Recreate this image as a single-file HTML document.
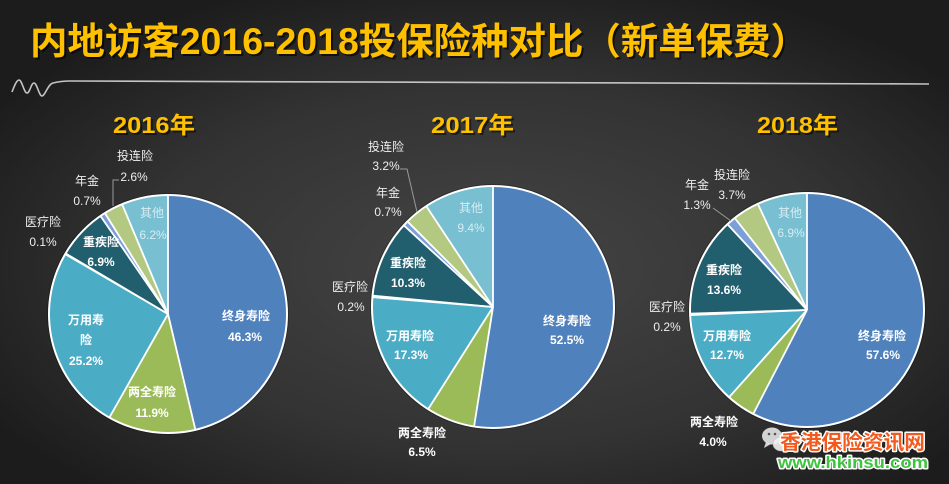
<!DOCTYPE html>
<html><head><meta charset="utf-8"><style>
html,body{margin:0;padding:0;background:#2a2a2a;}
svg{display:block;}
text{font-family:"Liberation Sans","Noto Sans CJK SC",sans-serif;}
</style></head><body>
<svg width="949" height="484" viewBox="0 0 949 484" xmlns="http://www.w3.org/2000/svg">
<defs>
<radialGradient id="bg" cx="52%" cy="55%" r="62%">
<stop offset="0" stop-color="#454545"/>
<stop offset="0.6" stop-color="#333333"/>
<stop offset="1" stop-color="#1c1c1c"/>
</radialGradient>
</defs>
<rect width="949" height="484" fill="url(#bg)"/>

<!-- Title -->
<text x="32" y="56" font-size="37" font-weight="bold" fill="#000" opacity="0.6" textLength="778" lengthAdjust="spacingAndGlyphs">内地访客2016-2018投保险种对比（新单保费）</text>
<text x="30" y="54" font-size="37" font-weight="bold" fill="#FFC000" textLength="778" lengthAdjust="spacingAndGlyphs">内地访客2016-2018投保险种对比（新单保费）</text>

<!-- squiggle line -->
<path d="M12,92 C15,84 17,80 19,80 C22,80 24,93 27,93 C30,93 31,83 34,83 C37,83 39,96 42,96 C45,96 48,84 53,83 C57,82 62,81 70,81 L929,84" fill="none" stroke="#c4c4c4" stroke-width="1.6"/>

<!-- Year headings -->
<g font-size="23" font-weight="bold">
<text x="115" y="135" fill="#000" opacity="0.5" textLength="82" lengthAdjust="spacingAndGlyphs">2016年</text>
<text x="113" y="133" fill="#FFC000" textLength="82" lengthAdjust="spacingAndGlyphs">2016年</text>
<text x="433" y="135" fill="#000" opacity="0.5" textLength="83" lengthAdjust="spacingAndGlyphs">2017年</text>
<text x="431" y="133" fill="#FFC000" textLength="83" lengthAdjust="spacingAndGlyphs">2017年</text>
<text x="759" y="135" fill="#000" opacity="0.5" textLength="81" lengthAdjust="spacingAndGlyphs">2018年</text>
<text x="757" y="133" fill="#FFC000" textLength="81" lengthAdjust="spacingAndGlyphs">2018年</text>
</g>

<!-- Pie 2016 -->
<g transform="translate(168,314)">
<circle r="121" fill="#000" opacity="0.25"/>
<g fill="none" stroke-width="119">
<circle r="59.5" stroke="#4F81BD" stroke-dasharray="173.6 400" transform="rotate(-90)"/>
<circle r="59.5" stroke="#9BBB59" stroke-dasharray="45 400" transform="rotate(76.68)"/>
<circle r="59.5" stroke="#4BACC6" stroke-dasharray="94.7 400" transform="rotate(119.52)"/>
<circle r="59.5" stroke="#e8e8e8" stroke-dasharray="0.9 400" transform="rotate(210.24)"/>
<circle r="59.5" stroke="#215E6E" stroke-dasharray="26.3 400" transform="rotate(210.6)"/>
<circle r="59.5" stroke="#7D9FD8" stroke-dasharray="3.1 400" transform="rotate(235.44)"/>
<circle r="59.5" stroke="#B3C982" stroke-dasharray="10.2 400" transform="rotate(237.96)"/>
<circle r="59.5" stroke="#78BFD2" stroke-dasharray="23.55 400" transform="rotate(247.32)"/>
</g>
<g stroke="#fff" stroke-width="1.8">
<line x1="0" y1="0" x2="0" y2="-119" transform="rotate(0)"/>
<line x1="0" y1="0" x2="0" y2="-119" transform="rotate(166.68)"/>
<line x1="0" y1="0" x2="0" y2="-119" transform="rotate(209.52)"/>
<line x1="0" y1="0" x2="0" y2="-119" transform="rotate(300.24)"/>
<line x1="0" y1="0" x2="0" y2="-119" transform="rotate(300.6)"/>
<line x1="0" y1="0" x2="0" y2="-119" transform="rotate(325.44)"/>
<line x1="0" y1="0" x2="0" y2="-119" transform="rotate(327.96)"/>
<line x1="0" y1="0" x2="0" y2="-119" transform="rotate(337.32)"/>
</g>
<circle r="119" fill="none" stroke="#fff" stroke-width="2"/>
</g>
<polyline points="119,180 113,180 113,206" fill="none" stroke="#999" stroke-width="1"/>
<g font-size="12" text-anchor="middle">
<text x="135" y="160" fill="#eee">投连险</text>
<text x="134" y="181" fill="#eee">2.6%</text>
<text x="87" y="185" fill="#eee">年金</text>
<text x="87" y="205" fill="#eee">0.7%</text>
<text x="43" y="226" fill="#eee">医疗险</text>
<text x="43" y="246" fill="#eee">0.1%</text>
<text x="152" y="217" fill="#d6ecf3">其他</text>
<text x="153" y="239" fill="#d6ecf3">6.2%</text>
<g font-weight="bold" fill="#fff">
<text x="101" y="246">重疾险</text>
<text x="101" y="266">6.9%</text>
<text x="86" y="324">万用寿</text>
<text x="86" y="344">险</text>
<text x="86" y="365">25.2%</text>
<text x="152" y="396">两全寿险</text>
<text x="152" y="417">11.9%</text>
<text x="246" y="320">终身寿险</text>
<text x="245" y="341">46.3%</text>
</g>
</g>

<!-- Pie 2017 -->
<g transform="translate(493,307)">
<circle r="123" fill="#000" opacity="0.25"/>
<g fill="none" stroke-width="121">
<circle r="60.5" stroke="#4F81BD" stroke-dasharray="200.1 400" transform="rotate(-90)"/>
<circle r="60.5" stroke="#9BBB59" stroke-dasharray="25.2 400" transform="rotate(99)"/>
<circle r="60.5" stroke="#4BACC6" stroke-dasharray="66.3 400" transform="rotate(122.4)"/>
<circle r="60.5" stroke="#e8e8e8" stroke-dasharray="1.2 400" transform="rotate(184.68)"/>
<circle r="60.5" stroke="#215E6E" stroke-dasharray="39.6 400" transform="rotate(185.4)"/>
<circle r="60.5" stroke="#7D9FD8" stroke-dasharray="3.1 400" transform="rotate(222.48)"/>
<circle r="60.5" stroke="#B3C982" stroke-dasharray="12.6 400" transform="rotate(225)"/>
<circle r="60.5" stroke="#78BFD2" stroke-dasharray="35.4 400" transform="rotate(236.52)"/>
</g>
<g stroke="#fff" stroke-width="1.8">
<line x1="0" y1="0" x2="0" y2="-121" transform="rotate(0)"/>
<line x1="0" y1="0" x2="0" y2="-121" transform="rotate(189)"/>
<line x1="0" y1="0" x2="0" y2="-121" transform="rotate(212.4)"/>
<line x1="0" y1="0" x2="0" y2="-121" transform="rotate(274.68)"/>
<line x1="0" y1="0" x2="0" y2="-121" transform="rotate(275.4)"/>
<line x1="0" y1="0" x2="0" y2="-121" transform="rotate(312.48)"/>
<line x1="0" y1="0" x2="0" y2="-121" transform="rotate(315)"/>
<line x1="0" y1="0" x2="0" y2="-121" transform="rotate(326.52)"/>
</g>
<circle r="121" fill="none" stroke="#fff" stroke-width="2"/>
</g>
<polyline points="400,169 407,169 417,212" fill="none" stroke="#999" stroke-width="1"/>
<g font-size="12" text-anchor="middle">
<text x="386" y="151" fill="#eee">投连险</text>
<text x="386" y="170" fill="#eee">3.2%</text>
<text x="388" y="197" fill="#eee">年金</text>
<text x="388" y="216" fill="#eee">0.7%</text>
<text x="350" y="291" fill="#eee">医疗险</text>
<text x="351" y="311" fill="#eee">0.2%</text>
<text x="471" y="212" fill="#d6ecf3">其他</text>
<text x="471" y="232" fill="#d6ecf3">9.4%</text>
<g font-weight="bold" fill="#fff">
<text x="408" y="267">重疾险</text>
<text x="408" y="287">10.3%</text>
<text x="410" y="340">万用寿险</text>
<text x="411" y="359">17.3%</text>
<text x="567" y="325">终身寿险</text>
<text x="567" y="344">52.5%</text>
<text x="422" y="437">两全寿险</text>
<text x="422" y="456">6.5%</text>
</g>
</g>

<!-- Pie 2018 -->
<g transform="translate(807,310)">
<circle r="119" fill="#000" opacity="0.25"/>
<g fill="none" stroke-width="117">
<circle r="58.5" stroke="#4F81BD" stroke-dasharray="212.2 400" transform="rotate(-90)"/>
<circle r="58.5" stroke="#9BBB59" stroke-dasharray="15.2 400" transform="rotate(117.36)"/>
<circle r="58.5" stroke="#4BACC6" stroke-dasharray="47.2 400" transform="rotate(131.76)"/>
<circle r="58.5" stroke="#e8e8e8" stroke-dasharray="1.2 400" transform="rotate(177.48)"/>
<circle r="58.5" stroke="#215E6E" stroke-dasharray="50.5 400" transform="rotate(178.2)"/>
<circle r="58.5" stroke="#7D9FD8" stroke-dasharray="5.3 400" transform="rotate(227.16)"/>
<circle r="58.5" stroke="#B3C982" stroke-dasharray="14.1 400" transform="rotate(231.84)"/>
<circle r="58.5" stroke="#78BFD2" stroke-dasharray="25.4 400" transform="rotate(245.16)"/>
</g>
<g stroke="#fff" stroke-width="1.8">
<line x1="0" y1="0" x2="0" y2="-117" transform="rotate(0)"/>
<line x1="0" y1="0" x2="0" y2="-117" transform="rotate(207.36)"/>
<line x1="0" y1="0" x2="0" y2="-117" transform="rotate(221.76)"/>
<line x1="0" y1="0" x2="0" y2="-117" transform="rotate(267.48)"/>
<line x1="0" y1="0" x2="0" y2="-117" transform="rotate(268.2)"/>
<line x1="0" y1="0" x2="0" y2="-117" transform="rotate(317.16)"/>
<line x1="0" y1="0" x2="0" y2="-117" transform="rotate(321.84)"/>
<line x1="0" y1="0" x2="0" y2="-117" transform="rotate(335.16)"/>
</g>
<circle r="117" fill="none" stroke="#fff" stroke-width="2"/>
</g>
<polyline points="713,208 731,221" fill="none" stroke="#999" stroke-width="1"/>
<g font-size="12" text-anchor="middle">
<text x="732" y="179" fill="#eee">投连险</text>
<text x="732" y="199" fill="#eee">3.7%</text>
<text x="697" y="189" fill="#eee">年金</text>
<text x="697" y="209" fill="#eee">1.3%</text>
<text x="667" y="311" fill="#eee">医疗险</text>
<text x="667" y="331" fill="#eee">0.2%</text>
<text x="790" y="217" fill="#d6ecf3">其他</text>
<text x="791" y="237" fill="#d6ecf3">6.9%</text>
<g font-weight="bold" fill="#fff">
<text x="724" y="274">重疾险</text>
<text x="724" y="294">13.6%</text>
<text x="727" y="340">万用寿险</text>
<text x="727" y="359">12.7%</text>
<text x="882" y="340">终身寿险</text>
<text x="883" y="359">57.6%</text>
<text x="714" y="426">两全寿险</text>
<text x="713" y="446">4.0%</text>
</g>
</g>

<!-- Watermark -->
<g>
<ellipse cx="772" cy="436" rx="10" ry="8.5" fill="#e6e6e6" opacity="0.9"/>
<path d="M766,442 L764,448 L771,444 Z" fill="#e6e6e6" opacity="0.9"/>
<ellipse cx="781" cy="444" rx="8" ry="7" fill="#f2f2f2" opacity="0.9" stroke="#bbb" stroke-width="0.6"/>
<circle cx="769" cy="434" r="1.3" fill="#555"/>
<circle cx="775" cy="434" r="1.3" fill="#555"/>
</g>
<text x="780" y="449" font-size="20" font-weight="bold" fill="#F25A1E" stroke="#fff" stroke-width="3" paint-order="stroke" stroke-linejoin="round" textLength="145" lengthAdjust="spacingAndGlyphs">香港保险资讯网</text>
<text x="778" y="468" font-size="17" font-weight="bold" fill="#3EC43E" stroke="#fff" stroke-width="3" paint-order="stroke" stroke-linejoin="round" textLength="150" lengthAdjust="spacingAndGlyphs">www.hkinsu.com</text>
</svg>
</body></html>
